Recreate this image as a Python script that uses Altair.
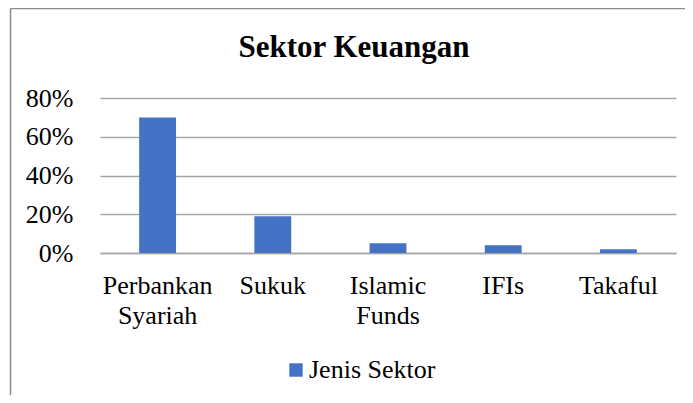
import altair as alt
import pandas as pd

title_text = "Sektor Keuangan"
categories = ["Perbankan\nSyariah", "Sukuk", "Islamic\nFunds", "IFIs", "Takaful"]
values = [0.70, 0.19, 0.05, 0.04, 0.02]
series_name = "Jenis Sektor"
y_ticks = [0, 0.2, 0.4, 0.6, 0.8]

df = pd.DataFrame({"sektor": categories, "nilai": values, "seri": [series_name] * len(categories)})
one = pd.DataFrame({"t": [title_text]})

FONT = "Times New Roman, Liberation Serif, serif"
GRID = "#A6A6A6"
FRAME = "#8C8C8C"

bars = alt.Chart(df).mark_bar().encode(
    x=alt.X("sektor:N", sort=categories, title=None,
            scale=alt.Scale(paddingInner=0.68, paddingOuter=0.34),
            axis=alt.Axis(labelAngle=0, labelExpr="split(datum.label, '\\n')",
                          labelFont=FONT, labelFontSize=26, labelColor="#000000",
                          labelPadding=19, ticks=False, domain=True,
                          domainColor=GRID, domainWidth=1.5, labelLineHeight=30)),
    y=alt.Y("nilai:Q", title=None,
            scale=alt.Scale(domain=[0, 0.8], nice=False),
            axis=alt.Axis(format=".0%", values=y_ticks,
                          labelFont=FONT, labelFontSize=26, labelColor="#000000",
                          labelPadding=27, ticks=False, domain=False,
                          gridColor=GRID, gridWidth=1.5)),
    color=alt.Color("seri:N", title=None,
                    scale=alt.Scale(domain=[series_name], range=["#4472C4"]),
                    legend=alt.Legend(orient="none", legendX=183, legendY=259,
                                      symbolType="square", symbolSize=180,
                                      symbolStrokeWidth=0, labelOffset=0,
                                      labelFont=FONT, labelFontSize=26,
                                      labelColor="#000000", padding=0)),
)

frame_left = alt.Chart(one).mark_rule(color=FRAME, strokeWidth=1.5).encode(
    x=alt.value(-89.5), y=alt.value(-89.5), y2=alt.value(310))
frame_top = alt.Chart(one).mark_rule(color=FRAME, strokeWidth=1.5).encode(
    x=alt.value(-89.5), x2=alt.value(600), y=alt.value(-89.5))

title = alt.Chart(one).mark_text(
    font=FONT, fontSize=31, fontWeight="bold", color="#000000",
    align="center", baseline="alphabetic").encode(
    text="t:N", x=alt.value(254), y=alt.value(-41))

chart = alt.layer(frame_left, frame_top, title, bars).properties(
    width=576, height=155,
    autosize=alt.AutoSizeParams(type="none"),
    padding={"left": 92, "top": 90, "right": 9, "bottom": 142},
).configure_view(stroke=None).configure_axis(gridColor=GRID)

chart.save("out.html", embed_options={"renderer": "svg", "actions": False})
